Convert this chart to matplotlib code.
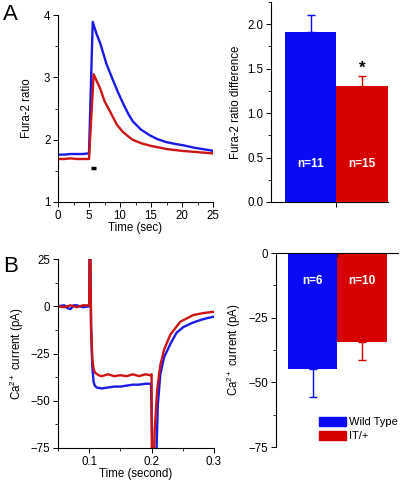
import numpy as np
import matplotlib
matplotlib.use('Agg')
import matplotlib.pyplot as plt
from matplotlib.patches import Patch
from matplotlib.ticker import MultipleLocator, FormatStrFormatter

plt.rcParams['font.family'] = ['Liberation Sans', 'DejaVu Sans']
plt.rcParams['font.size'] = 8.3
plt.rcParams['mathtext.fontset'] = 'custom'
plt.rcParams['mathtext.rm'] = 'Liberation Sans'
plt.rcParams['mathtext.it'] = 'Liberation Sans'
plt.rcParams['mathtext.bf'] = 'Liberation Sans:bold'

BLUE = '#1a1ae6'
RED = '#cc1414'
BAR_BLUE = '#0a0af5'
BAR_RED = '#d60000'

# panel A, left: Fura-2 ratio traces
wt_fura_t = [0, 1, 2, 3, 4, 5, 5.6, 6.2, 6.8, 7.8, 8.6, 9.5, 10.5, 11.3, 12.1,
             13.4, 14.8, 16, 17.5, 19, 20.2, 22, 24.5, 25]
wt_fura = [1.76, 1.76, 1.77, 1.77, 1.77, 1.78, 3.89, 3.70, 3.55, 3.22, 3.02, 2.80,
           2.58, 2.42, 2.29, 2.16, 2.07, 2.01, 1.96, 1.93, 1.91, 1.87, 1.83, 1.82]
it_fura_t = [0, 1, 2, 3, 4, 5, 5.75, 6.2, 6.8, 7.5, 8.4, 9.5, 10.5, 12, 13.5, 15,
             17.5, 20, 22.5, 25]
it_fura = [1.69, 1.69, 1.70, 1.69, 1.69, 1.69, 3.05, 2.95, 2.82, 2.62, 2.45, 2.24,
           2.12, 2.00, 1.94, 1.90, 1.85, 1.82, 1.80, 1.78]
stim_t = [5.4, 6.1]
stim_y = [1.55, 1.55]

# panel A, right: peak ratio difference
fura_diff = [1.91, 1.30]
fura_err = [0.19, 0.12]
fura_n = ['n=11', 'n=15']

# panel B, left: Ca2+ current traces
wt_ca_t = [0.05, 0.06, 0.065, 0.07, 0.075, 0.08, 0.09, 0.1, 0.1008, 0.1018, 0.103,
           0.105, 0.107, 0.109, 0.112, 0.12, 0.13, 0.14, 0.15, 0.16, 0.17, 0.18,
           0.19, 0.199, 0.2035, 0.2075, 0.21, 0.214, 0.22, 0.23, 0.235, 0.24,
           0.251, 0.265, 0.278, 0.29, 0.3]
wt_ca = [0, 0.5, -1.0, -1.5, 0.5, 0.5, -0.5, 0, 40, 30, -12, -32, -40, -42, -43,
         -43.5, -43, -42.5, -42.5, -42, -41.5, -41.5, -41, -41, -110, -80, -52,
         -36, -27, -20, -17, -14, -11, -8.8, -7.3, -6.2, -5.5]
it_ca_t = [0.05, 0.06, 0.07, 0.08, 0.09, 0.1, 0.1008, 0.1018, 0.103, 0.105, 0.107,
           0.109, 0.115, 0.12, 0.13, 0.14, 0.15, 0.16, 0.17, 0.18, 0.19, 0.198,
           0.2, 0.2005, 0.202, 0.205, 0.209, 0.214, 0.22, 0.23, 0.246, 0.267,
           0.285, 0.3]
it_ca = [0, -0.5, 0.5, -0.5, 0.5, 0.5, 40, 30, -10, -28, -33, -35, -36.5, -37,
         -36, -37, -36.5, -37, -36, -37, -36, -36.5, -36, -110, -100, -65, -44,
         -31, -23, -15, -8.2, -4.6, -3.5, -2.9]

# panel B, right: mean current
ca_mean = [-44.8, -34.3]
ca_err = [10.7, 7.2]
ca_n = ['n=6', 'n=10']

W, H = 404, 480
fig = plt.figure(figsize=(W / 100, H / 100), dpi=100)


def box(x0, y0, x1, y1):
    return [x0 / W, 1 - y1 / H, (x1 - x0) / W, (y1 - y0) / H]


def style(ax):
    ax.spines['top'].set_visible(False)
    ax.spines['right'].set_visible(False)
    ax.tick_params(which='major', direction='out', length=3.5, width=0.7, pad=2)
    ax.tick_params(which='minor', direction='out', length=2, width=0.6)
    for s in ax.spines.values():
        s.set_linewidth(0.8)


# A left
ax = fig.add_axes(box(58, 15, 213, 202))
ax.plot(wt_fura_t, wt_fura, color=BLUE, lw=1.7)
ax.plot(it_fura_t, it_fura, color=RED, lw=1.7)
ax.plot(stim_t, stim_y, color='black', lw=2.5, solid_capstyle='butt')
ax.set_xlim(0, 25)
ax.set_ylim(1, 4)
ax.xaxis.set_major_locator(MultipleLocator(5))
ax.xaxis.set_minor_locator(MultipleLocator(2.5))
ax.yaxis.set_major_locator(MultipleLocator(1))
ax.yaxis.set_minor_locator(MultipleLocator(0.5))
ax.set_xlabel('Time (sec)', labelpad=0)
ax.set_ylabel('Fura-2 ratio', labelpad=8)
style(ax)

# A right
ax = fig.add_axes(box(271, 2, 388, 202))
ax.bar([1, 2], fura_diff, width=1.0, color=[BAR_BLUE, BAR_RED])
for x, v, e, c in zip([1, 2], fura_diff, fura_err, [BAR_BLUE, BAR_RED]):
    ax.errorbar([x], [v], yerr=[[0], [e]], fmt='none', ecolor=c, capsize=3,
                elinewidth=1, capthick=1)
for x, t in zip([1, 2], fura_n):
    ax.text(x, 0.43, t, color='white', ha='center', va='center',
            fontsize=8.5, fontweight='bold')
ax.text(2, 1.50, '*', ha='center', va='center', fontsize=12, fontweight='bold')
ax.set_xlim(0.23, 2.5)
ax.set_ylim(0, 2.25)
ax.set_xticks([1.5])
ax.set_xticklabels([''])
ax.yaxis.set_major_locator(MultipleLocator(0.5))
ax.yaxis.set_minor_locator(MultipleLocator(0.25))
ax.yaxis.set_major_formatter(FormatStrFormatter('%.1f'))
ax.set_ylabel('Fura-2 ratio difference', labelpad=4)
style(ax)

# B left
ax = fig.add_axes(box(58, 259, 214, 448))
ax.plot(wt_ca_t, wt_ca, color=BLUE, lw=1.7)
ax.plot(it_ca_t, it_ca, color=RED, lw=1.7)
ax.set_xlim(0.05, 0.3)
ax.set_ylim(-75, 25)
ax.xaxis.set_major_locator(MultipleLocator(0.1))
ax.xaxis.set_minor_locator(MultipleLocator(0.05))
ax.yaxis.set_major_locator(MultipleLocator(25))
ax.yaxis.set_minor_locator(MultipleLocator(12.5))
ax.set_xlabel('Time (second)', labelpad=0)
ax.set_ylabel('Ca$^{2+}$ current (pA)', labelpad=3)
style(ax)

# B right
ax = fig.add_axes(box(276, 253, 398, 447))
ax.bar([1, 2], ca_mean, width=1.0, color=[BAR_BLUE, BAR_RED])
for x, v, e, c in zip([1, 2], ca_mean, ca_err, [BAR_BLUE, BAR_RED]):
    ax.errorbar([x], [v], yerr=[[e], [0]], fmt='none', ecolor=c, capsize=3,
                elinewidth=1, capthick=1)
for x, t in zip([1, 2], ca_n):
    ax.text(x, -11, t, color='white', ha='center', va='center',
            fontsize=8.5, fontweight='bold')
ax.set_xlim(0.26, 2.72)
ax.set_ylim(-75, 0)
ax.spines['bottom'].set_visible(False)
ax.spines['right'].set_visible(False)
ax.spines['top'].set_linewidth(0.8)
ax.spines['left'].set_linewidth(0.8)
ax.xaxis.tick_top()
ax.set_xticks([1.5])
ax.set_xticklabels([''])
ax.tick_params(axis='x', direction='in', length=3)
ax.yaxis.set_major_locator(MultipleLocator(25))
ax.yaxis.set_minor_locator(MultipleLocator(12.5))
ax.tick_params(axis='y', which='major', direction='out', length=3.5, width=0.7, pad=2)
ax.tick_params(axis='y', which='minor', direction='out', length=2, width=0.6)
ax.set_ylabel('Ca$^{2+}$ current (pA)', labelpad=4)

fig.legend(handles=[Patch(color=BAR_BLUE, label='Wild Type'),
                    Patch(color=BAR_RED, label='IT/+')],
           loc='upper left', bbox_to_anchor=(319 / W, 1 - 417 / H),
           frameon=False, borderpad=0, borderaxespad=0, handlelength=2.4,
           handleheight=0.9, handletextpad=0.3, labelspacing=0.3, fontsize=8)

fig.text(3 / W, 1 - 20 / H, 'A', fontsize=16, va='baseline')
fig.text(3 / W, 1 - 272 / H, 'B', fontsize=16, va='baseline')

fig.savefig('out.png', dpi=100)
